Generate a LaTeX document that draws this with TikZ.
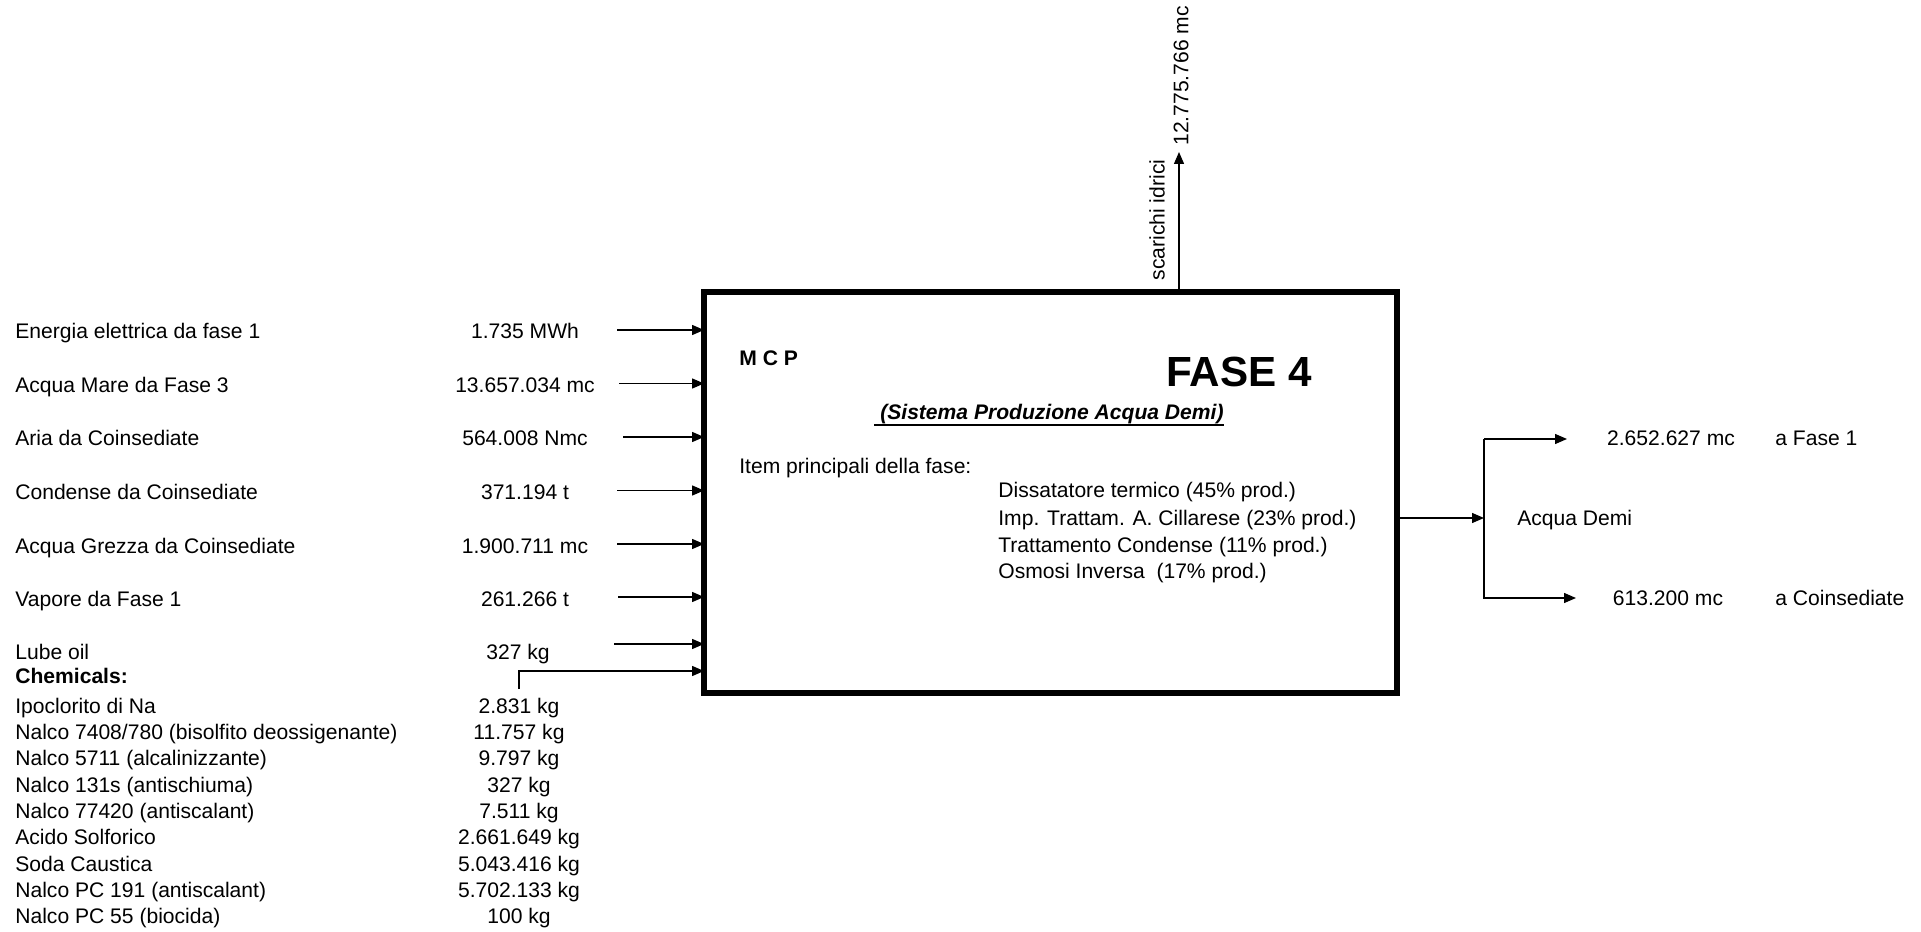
\documentclass[tikz,border=0pt]{standalone}
\usepackage{fontspec}
\setmainfont{Liberation Sans}
\usepackage{tikz}
\usetikzlibrary{arrows.meta, positioning, calc}

\begin{document}
\begin{tikzpicture}[
  x=0.02cm, y=-0.02cm,
  every node/.style={font=\fontsize{12}{14}\selectfont, inner sep=0pt},
  lbl/.style={anchor=base west},
  qty/.style={anchor=base},
  flow/.style={line width=0.75pt, -{Triangle[length=0.24cm, width=0.2cm]}},
  phasebox/.style={draw=black, line width=3.2pt, minimum width=13.86cm, minimum height=8.02cm, outer sep=0pt},
]
\useasboundingbox (0,0) rectangle (1921,932);

% --- main block ---
\node[phasebox] (fase) at (1050.5,492.5) {};
\node[lbl, font=\fontsize{12}{14}\selectfont\bfseries] (mcp) at (739,366) {M C P};
\node[qty, font=\fontsize{24}{28}\selectfont\bfseries] (titolo) at (1239,387) {FASE 4};
\node[qty, font=\fontsize{12}{14}\selectfont\bfseries\itshape] (sottotitolo) at (1049,420) {~(Sistema Produzione Acqua Demi)};
\draw[line width=1.1pt] ([yshift=-2.6pt]sottotitolo.base west) -- ([yshift=-2.6pt]sottotitolo.base east);
\node[lbl] (item) at (739,474) {Item principali della fase:};
\foreach \txt/\y [count=\i] in {
  {Dissatatore termico (45\% prod.)}/491,
  {Imp. Trattam. A. Cillarese (23\% prod.)}/518,
  {Trattamento Condense (11\% prod.)}/545,
  {Osmosi Inversa~ (17\% prod.)}/571}
{
  \node[lbl] (item\i) at (998,\y+7) {\txt};
}

% --- inputs ---
\foreach \txt/\q/\y/\xs [count=\i] in {
  {Energia elettrica da fase 1}/{1.735 MWh}/332/617,
  {Acqua Mare da Fase 3}/{13.657.034 mc}/385.5/619,
  {Aria da Coinsediate}/{564.008 Nmc}/439/623,
  {Condense da Coinsediate}/{371.194 t}/492.5/617,
  {Acqua Grezza da Coinsediate}/{1.900.711 mc}/546/617,
  {Vapore da Fase 1}/{261.266 t}/599/618}
{
  \node[lbl] (in\i) at (15,\y+7) {\txt};
  \node[qty] (q\i) at (525,\y+7) {\q};
  \coordinate (s\i) at (\xs,\y-2);
  \draw[flow] (s\i) -- (s\i -| fase.west);
}

\node[lbl] (lube) at (15,659) {Lube oil};
\node[qty] (qlube) at (518,659) {327 kg};
\coordinate (slube) at (614,644);
\draw[flow] (slube) -- (slube -| fase.west);

% --- chemicals ---
\node[lbl, font=\fontsize{12}{14}\selectfont\bfseries] (chem) at (15,683) {Chemicals:};
\foreach \txt/\q [count=\i] in {
  {Ipoclorito di Na}/{2.831 kg},
  {Nalco 7408/780 (bisolfito deossigenante)}/{11.757 kg},
  {Nalco 5711 (alcalinizzante)}/{9.797 kg},
  {Nalco 131s (antischiuma)}/{327 kg},
  {Nalco 77420 (antiscalant)}/{7.511 kg},
  {Acido Solforico}/{2.661.649 kg},
  {Soda Caustica}/{5.043.416 kg},
  {Nalco PC 191 (antiscalant)}/{5.702.133 kg},
  {Nalco PC 55 (biocida)}/{100 kg}}
{
  \node[lbl] (c\i) at (15,713+26.34*\i-26.34) {\txt};
  \node[qty] (cq\i) at (519,713+26.34*\i-26.34) {\q};
}
\coordinate (chemin) at (519,689);
\coordinate (chemjoin) at (519,671);
\draw[flow] (chemin) -- (chemjoin) -- (chemjoin -| fase.west);

% --- scarichi ---
\coordinate (scar) at (1179,152);
\draw[flow] (fase.north -| scar) -- (scar);
\node[rotate=90] (scarlbl) at (1157,220) {scarichi idrici};
\node[rotate=90, anchor=west] (scarq) at (1181,146) {12.775.766 mc};

% --- acqua demi ---
\coordinate (split) at (1484,518);
\coordinate (outA) at (1567,439);
\coordinate (outB) at (1576,598);
\draw[flow] (fase.east |- split) -- (split);
\draw[flow] (split |- outA) -- (outA);
\draw[flow] (split |- outA) |- (outB);
\node[lbl] (demi) at (1517,525) {Acqua Demi};
\node[qty] (qA) at (1671,446) {2.652.627 mc};
\node[lbl] (dA) at (1775,446) {a Fase 1};
\node[qty] (qB) at (1668,605) {613.200 mc};
\node[lbl] (dB) at (1775,605) {a Coinsediate};

\end{tikzpicture}
\end{document}
